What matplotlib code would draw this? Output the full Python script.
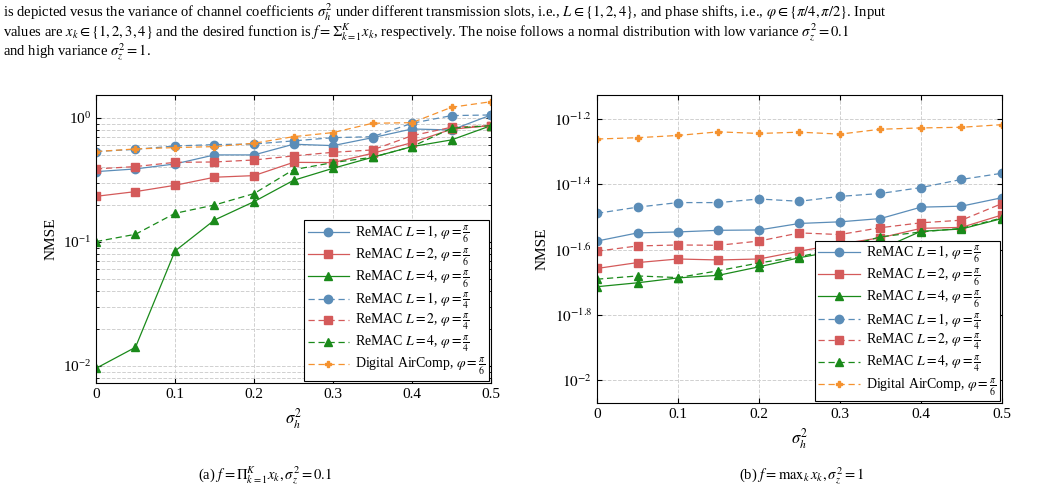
import numpy as np
import matplotlib
matplotlib.use('Agg')
import matplotlib.pyplot as plt
from matplotlib.ticker import FixedLocator, FuncFormatter, LogLocator, NullFormatter

plt.rcParams['font.family'] = ['Liberation Serif', 'DejaVu Serif']
plt.rcParams['mathtext.fontset'] = 'stix'

# --- dane ---
sigma_h = [0, 0.05, 0.1, 0.15, 0.2, 0.25, 0.3, 0.35, 0.4, 0.45, 0.5]

# (a) log10(NMSE)
a_l1_p6 = [-0.433, -0.411, -0.371, -0.298, -0.298, -0.212, -0.223, -0.159, -0.089, -0.097, 0.024]
a_l2_p6 = [-0.632, -0.594, -0.543, -0.478, -0.465, -0.358, -0.360, -0.285, -0.199, -0.091, -0.062]
a_l4_p6 = [-2.019, -1.849, -1.073, -0.823, -0.675, -0.503, -0.406, -0.317, -0.231, -0.177, -0.062]
a_l1_p4 = [-0.271, -0.253, -0.226, -0.215, -0.210, -0.185, -0.159, -0.151, -0.043, 0.019, 0.024]
a_l2_p4 = [-0.411, -0.392, -0.358, -0.355, -0.339, -0.306, -0.277, -0.258, -0.143, -0.075, -0.062]
a_l4_p4 = [-0.997, -0.938, -0.769, -0.702, -0.610, -0.417, -0.360, -0.317, -0.231, -0.083, -0.062]
a_digit = [-0.271, -0.250, -0.239, -0.231, -0.204, -0.151, -0.118, -0.043, -0.038, 0.086, 0.131]

# (b) log10(NMSE)
b_l1_p6 = [-1.574, -1.549, -1.546, -1.541, -1.540, -1.520, -1.515, -1.505, -1.470, -1.467, -1.441]
b_l2_p6 = [-1.658, -1.640, -1.629, -1.632, -1.629, -1.605, -1.583, -1.564, -1.535, -1.532, -1.494]
b_l4_p6 = [-1.714, -1.702, -1.687, -1.679, -1.653, -1.625, -1.602, -1.599, -1.544, -1.537, -1.505]
b_l1_p4 = [-1.489, -1.470, -1.456, -1.456, -1.445, -1.452, -1.437, -1.428, -1.410, -1.385, -1.366]
b_l2_p4 = [-1.605, -1.589, -1.586, -1.587, -1.574, -1.549, -1.554, -1.533, -1.518, -1.510, -1.459]
b_l4_p4 = [-1.691, -1.681, -1.686, -1.665, -1.641, -1.622, -1.595, -1.561, -1.546, -1.535, -1.503]
b_digit = [-1.261, -1.257, -1.250, -1.239, -1.244, -1.240, -1.246, -1.231, -1.227, -1.225, -1.217]

BLUE, RED, GREEN, ORANGE = '#5b8db8', '#d45a5a', '#1a8a1a', '#f5922f'
labels = [r'ReMAC $L=1$, $\varphi=\frac{\pi}{6}$', r'ReMAC $L=2$, $\varphi=\frac{\pi}{6}$',
          r'ReMAC $L=4$, $\varphi=\frac{\pi}{6}$', r'ReMAC $L=1$, $\varphi=\frac{\pi}{4}$',
          r'ReMAC $L=2$, $\varphi=\frac{\pi}{4}$', r'ReMAC $L=4$, $\varphi=\frac{\pi}{4}$',
          r'Digital AirComp, $\varphi=\frac{\pi}{6}$']
styles = [(BLUE, 'o', '-'), (RED, 's', '-'), (GREEN, '^', '-'),
          (BLUE, 'o', '--'), (RED, 's', '--'), (GREEN, '^', '--'), (ORANGE, 'P', '--')]


def rysuj(ax, serie, ylim):
    for s, lab, (c, m, ls) in zip(serie, labels, styles):
        ms = 5 if m == 'P' else 6
        ax.plot(sigma_h, 10 ** np.array(s), color=c, marker=m, ls=ls, lw=0.9,
                ms=ms, label=lab, dashes=(5, 3) if ls == '--' else (None, None))
    ax.set_yscale('log')
    ax.set_xlim(0, 0.5)
    ax.set_ylim(*ylim)
    ax.set_xticks([0, 0.1, 0.2, 0.3, 0.4, 0.5])
    ax.set_xticklabels(['0', '0.1', '0.2', '0.3', '0.4', '0.5'])
    ax.set_xlabel(r'$\sigma_h^2$', fontsize=12)
    ax.set_ylabel('NMSE', fontsize=11)
    ax.grid(True, which='both', ls='--', color='#d0d0d0', lw=0.7)
    ax.tick_params(direction='in', which='both', labelsize=11, top=True, right=True)
    leg = ax.legend(loc='lower right', fontsize=10, fancybox=False, framealpha=1,
                    edgecolor='black', borderpad=0.25, labelspacing=0.05,
                    handlelength=3.0, handletextpad=0.4, borderaxespad=0.15)
    leg.get_frame().set_linewidth(0.8)


fig = plt.figure(figsize=(10.41, 4.94), dpi=100)
ax1 = fig.add_axes([0.0922, 0.2247, 0.3795, 0.583])
ax2 = fig.add_axes([0.5735, 0.184, 0.389, 0.6237])

rysuj(ax1, [a_l1_p6, a_l2_p6, a_l4_p6, a_l1_p4, a_l2_p4, a_l4_p4, a_digit], (10 ** -2.137, 10 ** 0.185))
ax1.yaxis.set_major_locator(LogLocator(base=10, numticks=10))
ax1.yaxis.set_minor_locator(LogLocator(base=10, subs=np.arange(2, 10), numticks=10))
ax1.yaxis.set_minor_formatter(NullFormatter())

rysuj(ax2, [b_l1_p6, b_l2_p6, b_l4_p6, b_l1_p4, b_l2_p4, b_l4_p4, b_digit], (10 ** -2.071, 10 ** -1.126))
wykl = [-2.0, -1.8, -1.6, -1.4, -1.2]
ax2.yaxis.set_major_locator(FixedLocator([10 ** e for e in wykl]))
ax2.yaxis.set_major_formatter(FuncFormatter(lambda v, p: r'$10^{%g}$' % round(np.log10(v), 1)))
ax2.yaxis.set_minor_locator(FixedLocator([]))

fig.text(0.003, 0.975, r'is depicted vesus the variance of channel coefficients $\sigma_h^2$ under different transmission slots, i.e., $L\in\{1,2,4\}$, and phase shifts, i.e., $\varphi\in\{\pi/4,\pi/2\}$. Input',
         fontsize=10.5, va='center')
fig.text(0.003, 0.935, r'values are $x_k\in\{1,2,3,4\}$ and the desired function is $f=\Sigma_{k=1}^{K}x_k$, respectively. The noise follows a normal distribution with low variance $\sigma_z^2=0.1$',
         fontsize=10.5, va='center')
fig.text(0.003, 0.895, r'and high variance $\sigma_z^2=1$.', fontsize=10.5, va='center')
fig.text(0.255, 0.03, r'(a) $f=\Pi_{k=1}^{K}x_k, \sigma_z^2=0.1$', fontsize=10.5, ha='center')
fig.text(0.77, 0.03, r'(b) $f=\mathrm{max}_k\, x_k, \sigma_z^2=1$', fontsize=10.5, ha='center')

fig.savefig('out.png', dpi=100)
